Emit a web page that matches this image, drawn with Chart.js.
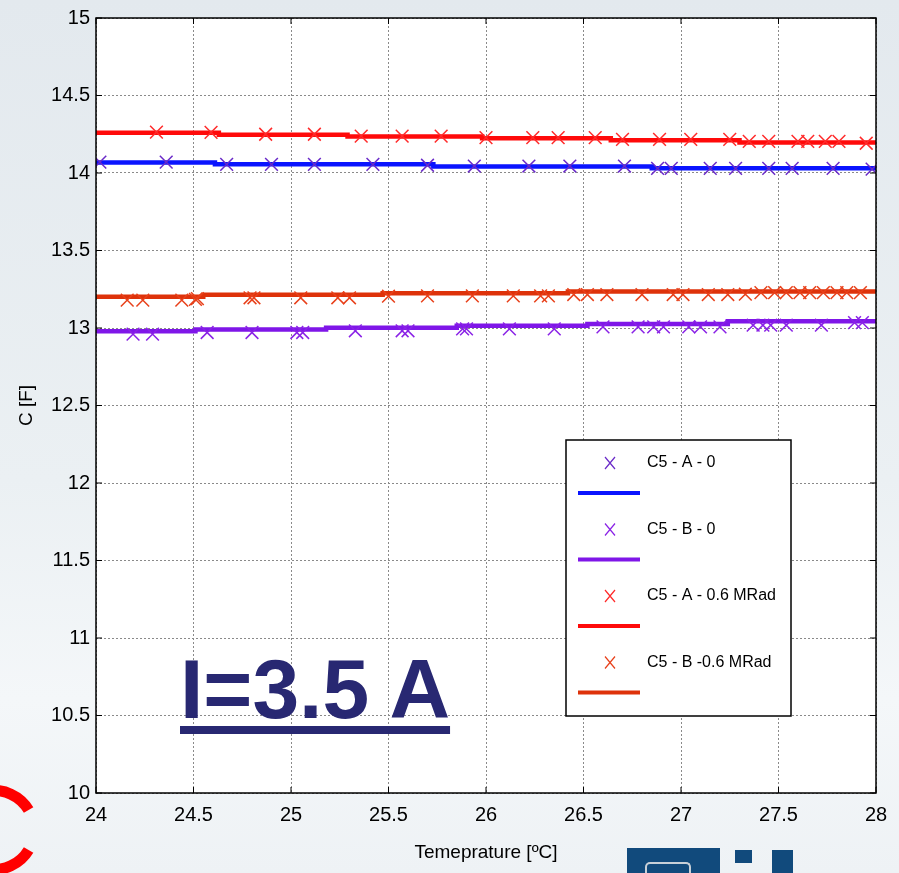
<!DOCTYPE html>
<html>
<head>
<meta charset="utf-8">
<title>C5 - I=3.5 A</title>
<script src="https://cdn.jsdelivr.net/npm/chart.js@4.4.1/dist/chart.umd.min.js"></script>
<style>
    html, body { margin: 0; padding: 0; }
    body {
        width: 899px; height: 873px; overflow: hidden; position: relative;
        background: linear-gradient(180deg, #e3e9ee 0%, #ebf0f3 55%, #f4f7f9 80%, #eef2f5 100%);
    }
    #wrap { position: absolute; left: 0; top: 0; width: 899px; height: 873px; }
    .big-label {
        position: absolute; left: 180px; top: 647px;
        font: bold 84px 'Liberation Sans', Arial, sans-serif; line-height: 1;
        color: #282872; white-space: nowrap;
        text-decoration: underline; text-decoration-thickness: 8px; text-underline-offset: 8px;
    }
    .deco { position: absolute; left: 0; top: 0; }
    .logo { position: absolute; background: #114a7c; }
</style>
</head>
<body>
<svg class="deco" width="899" height="873">
    <path d="M -45 823 A 40 40 0 0 1 28.6 810" fill="none" stroke="#ff0000" stroke-width="11"/>
    <path d="M 28.6 850 A 40 40 0 0 1 -45 837" fill="none" stroke="#ff0000" stroke-width="11"/>
</svg>
<div id="wrap"><canvas id="chart" width="899" height="873"></canvas></div>
<div class="big-label">I=3.5 A</div>
<div class="logo" style="left:627px; top:848px; width:93px; height:25px;"></div>
<div style="position:absolute; left:645px; top:862px; width:42px; height:14px; border:2px solid #c8d0d8; border-bottom:none; border-radius:5px 5px 0 0;"></div>
<div class="logo" style="left:735px; top:850px; width:17px; height:13px;"></div>
<div class="logo" style="left:772px; top:850px; width:21px; height:23px;"></div>

<script>
// ======================  Dữ liệu  ====================== //
const xTicks = [24, 24.5, 25, 25.5, 26, 26.5, 27, 27.5, 28];
const yTicks = [10, 10.5, 11, 11.5, 12, 12.5, 13, 13.5, 14, 14.5, 15];
const seriesNames = ['C5 - A - 0', 'C5 - B - 0', 'C5 - A - 0.6 MRad', 'C5 - B -0.6 MRad'];

// đường bậc thang (giá trị giữ tới bước kế tiếp)
const fitA0_T  = [24, 24.61, 25.73, 26.85, 27.98, 28];
const fitA0_C  = [14.083, 14.068, 14.057, 14.042, 14.030, 14.030];
const fitB0_T  = [24, 24.51, 25.18, 25.85, 26.52, 27.24, 27.88, 28];
const fitB0_C  = [12.968, 12.979, 12.990, 13.002, 13.015, 13.026, 13.043, 13.043];
const fitA06_T = [24, 24.63, 25.29, 25.98, 26.64, 27.30, 27.97, 28];
const fitA06_C = [14.272, 14.259, 14.246, 14.236, 14.225, 14.212, 14.197, 14.197];
const fitB06_T = [24, 24.55, 25.47, 26.42, 27.35, 28];
const fitB06_C = [13.187, 13.202, 13.215, 13.224, 13.236, 13.236];

// điểm đo (dấu x)
const measA0_T = [24.02, 24.36, 24.67, 24.90, 25.12, 25.42, 25.70, 25.94, 26.22, 26.43, 26.71, 26.88, 26.95, 27.15, 27.28, 27.45, 27.57, 27.78, 27.98];
const measA0_C = [14.070, 14.070, 14.056, 14.056, 14.056, 14.056, 14.050, 14.045, 14.045, 14.045, 14.045, 14.030, 14.030, 14.030, 14.030, 14.030, 14.030, 14.030, 14.025];
const measB0_T = [24.19, 24.29, 24.57, 24.80, 25.03, 25.06, 25.33, 25.57, 25.60, 25.88, 25.90, 26.12, 26.35, 26.60, 26.78, 26.86, 26.91, 27.04, 27.10, 27.20, 27.37, 27.42, 27.46, 27.54, 27.72, 27.89, 27.93];
const measB0_C = [12.960, 12.960, 12.971, 12.971, 12.971, 12.971, 12.982, 12.982, 12.982, 12.994, 12.994, 12.994, 12.994, 13.007, 13.007, 13.007, 13.007, 13.007, 13.007, 13.007, 13.018, 13.018, 13.018, 13.018, 13.018, 13.035, 13.035];
const measA06_T = [24.31, 24.59, 24.87, 25.12, 25.36, 25.57, 25.77, 26.00, 26.24, 26.37, 26.56, 26.70, 26.89, 27.05, 27.25, 27.35, 27.45, 27.60, 27.65, 27.74, 27.81, 27.95];
const measA06_C = [14.264, 14.262, 14.250, 14.250, 14.238, 14.238, 14.238, 14.228, 14.228, 14.228, 14.228, 14.217, 14.217, 14.217, 14.217, 14.204, 14.204, 14.204, 14.204, 14.204, 14.204, 14.192];
const measB06_T = [24.16, 24.24, 24.44, 24.51, 24.52, 24.79, 24.81, 25.05, 25.24, 25.30, 25.50, 25.70, 25.93, 26.14, 26.28, 26.32, 26.45, 26.52, 26.62, 26.80, 26.96, 27.01, 27.14, 27.24, 27.33, 27.41, 27.48, 27.54, 27.61, 27.66, 27.73, 27.80, 27.85, 27.92];
const measB06_C = [13.180, 13.180, 13.180, 13.185, 13.190, 13.195, 13.195, 13.195, 13.195, 13.195, 13.205, 13.207, 13.207, 13.207, 13.207, 13.207, 13.216, 13.216, 13.216, 13.216, 13.216, 13.216, 13.216, 13.216, 13.218, 13.228, 13.228, 13.228, 13.228, 13.228, 13.228, 13.228, 13.228, 13.228];

const lineColors   = ['#0a14ff', '#7f16e8', '#ff0a0a', '#de320a'];
const markerColors = ['#6a2ac8', '#8a22e6', '#ff2a2a', '#e8401a'];

const FONT = "'Liberation Sans', Arial, sans-serif";

const toXY = (xs, ys) => xs.map((x, i) => ({ x: x, y: ys[i] }));

const fits = [[fitA0_T, fitA0_C], [fitB0_T, fitB0_C], [fitA06_T, fitA06_C], [fitB06_T, fitB06_C]];
const meas = [[measA0_T, measA0_C], [measB0_T, measB0_C], [measA06_T, measA06_C], [measB06_T, measB06_C]];

const datasets = [];
fits.forEach((f, i) => {
    datasets.push({
        label: seriesNames[i] + ' fit',
        data: toXY(f[0], f[1]),
        borderColor: lineColors[i],
        borderWidth: 4.5,
        stepped: 'after',
        pointRadius: 0,
        fill: false,
        order: 2
    });
});
meas.forEach((m, i) => {
    datasets.push({
        label: seriesNames[i],
        data: toXY(m[0], m[1]),
        showLine: false,
        pointStyle: 'crossRot',
        pointRadius: 9,
        pointBorderWidth: 1.5,
        borderColor: markerColors[i],
        backgroundColor: markerColors[i],
        order: 1
    });
});

// ======================  Khung, vạch chia, chú thích  ====================== //
const plotFrame = {
    id: 'plotFrame',
    beforeDraw(chart) {
        const { ctx, chartArea: a } = chart;
        ctx.save();
        ctx.fillStyle = '#ffffff';
        ctx.fillRect(a.left, a.top, a.right - a.left, a.bottom - a.top);
        ctx.restore();
    },
    afterDatasetsDraw(chart) {
        const { ctx, chartArea: a, scales } = chart;
        ctx.save();
        ctx.strokeStyle = '#000';
        ctx.lineWidth = 1.5;
        ctx.strokeRect(a.left, a.top, a.right - a.left, a.bottom - a.top);
        ctx.lineWidth = 1;
        ctx.beginPath();
        xTicks.forEach(v => {
            const px = scales.x.getPixelForValue(v);
            ctx.moveTo(px, a.bottom); ctx.lineTo(px, a.bottom - 6);
            ctx.moveTo(px, a.top); ctx.lineTo(px, a.top + 6);
        });
        yTicks.forEach(v => {
            const py = scales.y.getPixelForValue(v);
            ctx.moveTo(a.left, py); ctx.lineTo(a.left + 6, py);
            ctx.moveTo(a.right, py); ctx.lineTo(a.right - 6, py);
        });
        ctx.stroke();
        ctx.restore();
    },
    afterDraw(chart) {
        const ctx = chart.ctx;
        const bx = 566, by = 440, bw = 225, bh = 276, step = 66.5;
        ctx.save();
        ctx.fillStyle = '#fff';
        ctx.fillRect(bx, by, bw, bh);
        ctx.strokeStyle = '#000';
        ctx.lineWidth = 1.5;
        ctx.strokeRect(bx, by, bw, bh);
        ctx.font = '16px ' + FONT;
        ctx.textBaseline = 'middle';
        seriesNames.forEach((name, i) => {
            const my = by + 23 + i * step;
            const ly = by + 53 + i * step;
            // dấu x
            ctx.strokeStyle = markerColors[i];
            ctx.lineWidth = 1.2;
            ctx.beginPath();
            ctx.moveTo(605, my - 6); ctx.lineTo(615, my + 6);
            ctx.moveTo(615, my - 6); ctx.lineTo(605, my + 6);
            ctx.stroke();
            // đường
            ctx.strokeStyle = lineColors[i];
            ctx.lineWidth = 4;
            ctx.beginPath();
            ctx.moveTo(578, ly); ctx.lineTo(640, ly);
            ctx.stroke();
            ctx.fillStyle = '#000';
            ctx.fillText(name, 647, my);
        });
        ctx.restore();
    }
};

// ======================  Biểu đồ  ====================== //
new Chart(document.getElementById('chart'), {
    type: 'line',
    data: { datasets: datasets },
    options: {
        responsive: false,
        animation: false,
        layout: { padding: { top: 17, right: 23, bottom: 0, left: 0 } },
        scales: {
            x: {
                type: 'linear',
                min: 24, max: 28,
                afterBuildTicks: s => { s.ticks = xTicks.map(v => ({ value: v })); },
                afterFit: s => { s.height = 80; },
                ticks: { color: '#000', font: { family: FONT, size: 20 }, padding: 10, maxRotation: 0, autoSkip: false, callback: v => String(v) },
                grid: { color: '#8a8a8a', lineWidth: 1, drawTicks: false },
                border: { display: false, dash: [2, 2] },
                title: { display: true, text: 'Temeprature [ºC]', color: '#000', font: { family: FONT, size: 19 }, padding: { top: 0, bottom: 9 } }
            },
            y: {
                type: 'linear',
                min: 10, max: 15,
                afterBuildTicks: s => { s.ticks = yTicks.map(v => ({ value: v })); },
                afterFit: s => { s.width = 96; },
                ticks: { color: '#000', font: { family: FONT, size: 20 }, padding: 6, callback: v => String(v) },
                grid: { color: '#8a8a8a', lineWidth: 1, drawTicks: false },
                border: { display: false, dash: [2, 2] },
                title: { display: true, text: 'C [F]', color: '#000', font: { family: FONT, size: 19 }, padding: { top: 15, bottom: 0 } }
            }
        },
        plugins: {
            legend: { display: false },
            tooltip: { enabled: false }
        }
    },
    plugins: [plotFrame]
});
</script>
</body>
</html>
